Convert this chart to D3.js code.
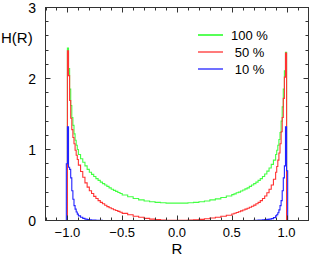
<!DOCTYPE html>
<html><head><meta charset="utf-8">
<script src="https://cdn.jsdelivr.net/npm/d3@7"></script>
<style>body{margin:0;background:#fff}svg{display:block}text{font-family:"Liberation Sans",Arial,sans-serif;fill:#000}</style>
</head><body><svg id="c" width="309" height="267"></svg>
<script>
// bin edges (R)
const edges = [-1.01,-1.00,-0.99,-0.98,-0.97,-0.96,-0.95,-0.94,-0.93,-0.92,-0.91,
  -0.90,-0.88,-0.86,-0.84,-0.82,-0.80,-0.78,-0.76,-0.74,-0.72,-0.70,-0.68,-0.66,-0.64,-0.62,-0.60,-0.58,-0.56,-0.54,-0.52,
  -0.50,-0.45,-0.40,-0.35,-0.30,-0.25,-0.20,-0.15,-0.10,-0.05,
  0.00,0.05,0.10,0.15,0.20,0.25,0.30,0.35,0.40,0.45,
  0.50,0.52,0.54,0.56,0.58,0.60,0.62,0.64,0.66,0.68,0.70,0.72,0.74,0.76,0.78,0.80,0.82,0.84,0.86,0.88,
  0.90,0.91,0.92,0.93,0.94,0.95,0.96,0.97,0.98,0.99,1.00,1.01];
const h100 = [0,2.43,2.14,1.85,1.62,1.45,1.34,1.22,1.13,1.06,1.00,
  0.93,0.87,0.82,0.77,0.72,0.68,0.65,0.62,0.59,0.565,0.54,0.52,0.50,0.48,0.46,0.44,0.425,0.41,0.395,0.38,
  0.36,0.335,0.31,0.29,0.275,0.265,0.255,0.25,0.245,0.245,
  0.245,0.245,0.25,0.255,0.265,0.275,0.29,0.305,0.325,0.345,
  0.365,0.375,0.39,0.40,0.415,0.43,0.445,0.46,0.48,0.50,0.52,0.54,0.565,0.59,0.62,0.655,0.695,0.74,0.79,0.85,
  0.93,0.99,1.06,1.14,1.24,1.40,1.60,1.85,2.11,2.37,0];
const h50 = [0,2.39,2.04,1.69,1.44,1.28,1.17,1.08,0.99,0.92,0.86,
  0.78,0.69,0.61,0.53,0.47,0.42,0.38,0.34,0.31,0.28,0.255,0.235,0.215,0.195,0.18,0.165,0.152,0.14,0.128,0.116,
  0.10,0.08,0.06,0.045,0.03,0.02,0.012,0.007,0.004,0.003,
  0.003,0.004,0.006,0.01,0.016,0.025,0.035,0.045,0.06,0.075,
  0.092,0.102,0.113,0.124,0.135,0.147,0.16,0.172,0.186,0.20,0.217,0.235,0.255,0.28,0.31,0.345,0.39,0.44,0.50,0.58,
  0.68,0.76,0.85,0.95,1.08,1.25,1.45,1.72,2.02,2.36,0];
const h10 = [0.80,1.32,0.75,0.72,0.60,0.42,0.30,0.21,0.16,0.12,0.09,
  0.065,0.045,0.03,0.02,0.015,0.01,0.007,0.005,0.004,0.003,0.002,0.001,0,0,0,0,0,0,0,0,
  0,0,0,0,0,0,0,0,0,0,
  0,0,0,0,0,0,0,0,0,0,
  0,0,0,0,0,0,0,0,0,0.001,0.002,0.003,0.005,0.007,0.01,0.013,0.016,0.02,0.027,0.04,
  0.065,0.08,0.11,0.15,0.21,0.28,0.42,0.60,0.77,1.32,0.70];
const seriesNames = ["100 %","50 %","10 %"];
const seriesColors = ["#44ff44","#ff3333","#2222ff"];
const xTicks = [-1.0,-0.5,0.0,0.5,1.0];
const yTicks = [0,1,2,3];

const svg = d3.select("#c");
const x = d3.scaleLinear().domain([-1.2,1.2]).range([45.5,308.5]);
const y = d3.scaleLinear().domain([0,3]).range([220.5,7.5]);
const axisColor = "#333";

function pts(vals){
  const p=[[edges[0],0]];
  vals.forEach((v,i)=>p.push([edges[i],v]));
  p.push([edges[edges.length-1],vals[vals.length-1]]);
  p.push([edges[edges.length-1],0]);
  return p;
}
const line = d3.line().x(d=>x(d[0])).y(d=>y(d[1])).curve(d3.curveStepAfter);
[h100,h50,h10].forEach((vals,k)=>{
  svg.append("path").attr("d",line(pts(vals))).attr("fill","none")
    .attr("stroke",seriesColors[k]).attr("stroke-width",1.1);
});

// frame
const [x0,x1]=x.range(), [y0,y1]=y.range();
svg.append("rect").attr("x",x0).attr("y",y1).attr("width",x1-x0).attr("height",y0-y1)
  .attr("fill","none").attr("stroke",axisColor).attr("stroke-width",1);

// ticks
const g=svg.append("g").attr("stroke",axisColor).attr("stroke-width",1);
d3.range(-12,13).forEach(i=>{
  const v=i/10, major=(i%5===0), L=major?5:3, px=Math.round(x(v))+0.5;
  g.append("line").attr("x1",px).attr("x2",px).attr("y1",y0).attr("y2",y0-L);
  g.append("line").attr("x1",px).attr("x2",px).attr("y1",y1).attr("y2",y1+L);
});
d3.range(0,16).forEach(i=>{
  const v=i/5, major=(i%5===0), L=major?5:3, py=Math.round(y(v)-0.5)+0.5;
  g.append("line").attr("y1",py).attr("y2",py).attr("x1",x0).attr("x2",x0+L);
  g.append("line").attr("y1",py).attr("y2",py).attr("x1",x1).attr("x2",x1-L);
});

// labels
xTicks.forEach(v=>{
  svg.append("text").attr("x",x(v)).attr("y",237).attr("text-anchor","middle")
    .attr("font-size",13).text(d3.format(".1f")(v).replace("-","\u2212"));
});
yTicks.forEach(v=>{
  svg.append("text").attr("x",36).attr("y",y(v)+5).attr("text-anchor","end")
    .attr("font-size",14).text(v);
});
svg.append("text").attr("x",1).attr("y",43).attr("font-size",15).text("H(R)");
svg.append("text").attr("x",x(0)).attr("y",254).attr("text-anchor","middle").attr("font-size",15).text("R");

// legend
seriesNames.forEach((n,k)=>{
  const ly=35+k*17;
  svg.append("line").attr("x1",198).attr("x2",223).attr("y1",ly).attr("y2",ly)
    .attr("stroke",seriesColors[k]).attr("stroke-width",k===0?1.8:1.3);
  svg.append("text").attr("x",249.5).attr("y",ly+4.5).attr("text-anchor","middle")
    .attr("font-size",13).text(n);
});
</script></body></html>
